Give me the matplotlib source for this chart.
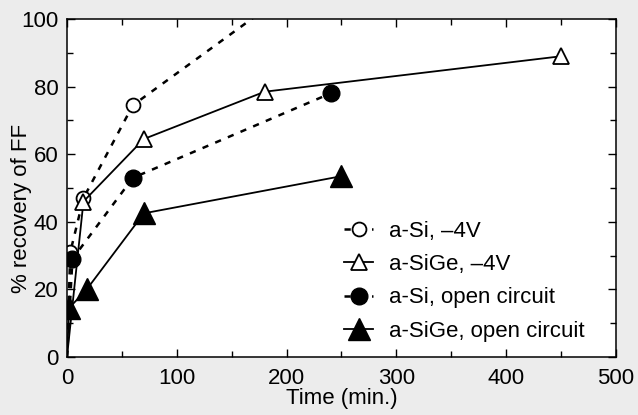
"""FF recovery vs. annealing time for a-Si and a-SiGe cells."""

import matplotlib

matplotlib.use("Agg")
import matplotlib.pyplot as plt
from matplotlib.ticker import MultipleLocator

# a-Si, -4V (open circles, dotted)
si_bias_t = [0, 3, 15, 60, 240]
si_bias_ff = [0, 31, 47, 74.5, 117]
# a-SiGe, -4V (open triangles, solid)
sige_bias_t = [0, 15, 70, 180, 450]
sige_bias_ff = [0, 46, 64.5, 78.5, 89]
# a-Si, open circuit (filled circles, dotted)
si_oc_t = [0, 5, 60, 240]
si_oc_ff = [0, 29, 53, 78]
# a-SiGe, open circuit (filled triangles, solid)
sige_oc_t = [0, 2, 18, 70, 250]
sige_oc_ff = [0, 14.5, 20, 42.5, 53.5]

plt.rcParams.update({
    "font.family": ["Liberation Sans", "DejaVu Sans"],
    "font.size": 16,
    "axes.linewidth": 1.1,
})

fig = plt.figure(figsize=(6.38, 4.15), dpi=100, facecolor="#ececec")
ax = fig.add_axes([0.105, 0.140, 0.8605, 0.814])

dash = (0, (2.5, 3))
# the origin is a line anchor only, no marker there
skip0 = lambda n: list(range(1, n))
ax.plot(si_bias_t, si_bias_ff, ls=dash, lw=1.8, color="black", marker="o", ms=10,
        mfc="white", mec="black", mew=1.3, markevery=skip0(len(si_bias_t)),
        label="a-Si, \u20134V")
ax.plot(sige_bias_t, sige_bias_ff, ls="-", lw=1.3, color="black", marker="^", ms=11,
        mfc="white", mec="black", mew=1.3, markevery=skip0(len(sige_bias_t)),
        label="a-SiGe, \u20134V")
ax.plot(si_oc_t, si_oc_ff, ls=dash, lw=1.8, color="black", marker="o", ms=12,
        mfc="black", mec="black", markevery=skip0(len(si_oc_t)),
        label="a-Si, open circuit")
ax.plot(sige_oc_t, sige_oc_ff, ls="-", lw=1.3, color="black", marker="^", ms=16,
        mfc="black", mec="black", markevery=skip0(len(sige_oc_t)),
        label="a-SiGe, open circuit")

ax.set_xlim(0, 500)
ax.set_ylim(0, 100)
ax.xaxis.set_major_locator(MultipleLocator(100))
ax.xaxis.set_minor_locator(MultipleLocator(50))
ax.yaxis.set_major_locator(MultipleLocator(20))
ax.yaxis.set_minor_locator(MultipleLocator(10))
ax.tick_params(which="both", direction="in", top=True, right=True, width=1.0)
ax.tick_params(which="major", length=6, labelsize=16)
ax.tick_params(axis="x", which="major", pad=8)
ax.tick_params(axis="y", which="major", pad=6)
ax.tick_params(which="minor", length=4)
ax.set_xlabel("Time (min.)", fontsize=16, labelpad=-1)
ax.set_ylabel("% recovery of FF", fontsize=16)
ax.yaxis.set_label_coords(-0.064, 0.44)

ax.legend(loc="center left", bbox_to_anchor=(0.469, 0.224), frameon=False,
          handlelength=1.3, handletextpad=0.7, labelspacing=0.55, fontsize=16)

fig.savefig("out.png", dpi=100, facecolor=fig.get_facecolor())
